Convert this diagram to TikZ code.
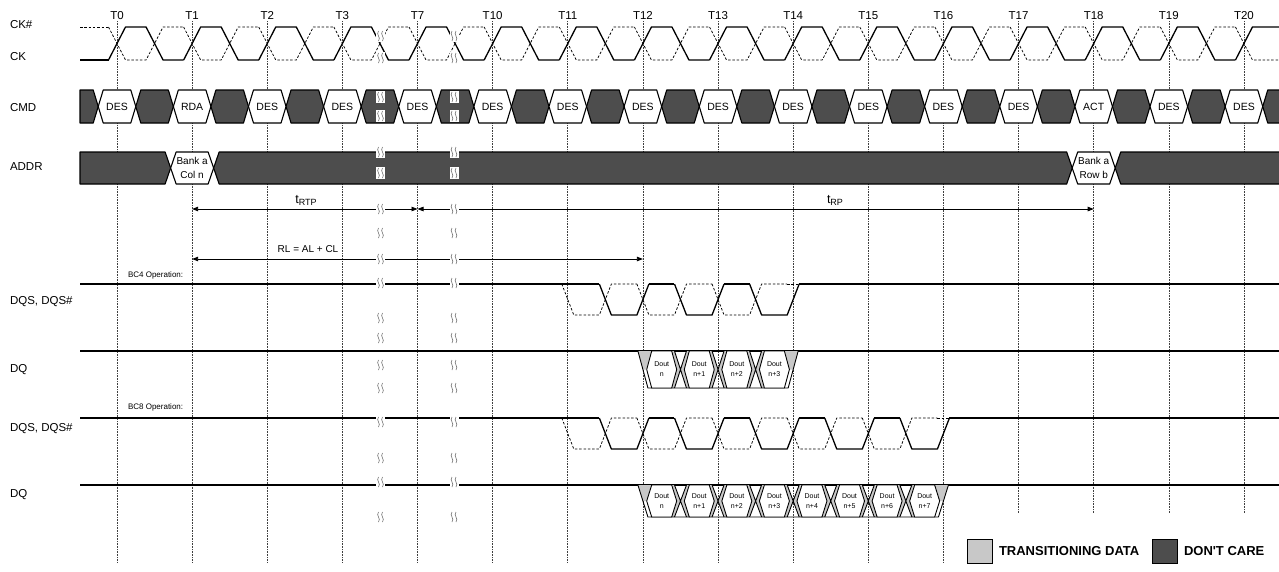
\documentclass[tikz,border=0pt]{standalone}
\usepackage{fontspec}
\setmainfont{Liberation Sans}
\newfontfamily\legendfont[Ligatures=ResetAll]{Liberation Sans}
\usetikzlibrary{arrows.meta}
\definecolor{dcare}{RGB}{77,77,77}
\definecolor{trans}{RGB}{200,200,200}
\definecolor{brkc}{RGB}{110,110,110}
\newcommand{\tcx}[1]{117+75.13*(#1)}
\newcommand{\myhex}[6]{\filldraw[#1] ({#2-(#3)},{(#5+#6)/2}) -- ({#2-(#3)+(#4)},#5) -- ({#2+(#3)-(#4)},#5) -- ({#2+(#3)},{(#5+#6)/2}) -- ({#2+(#3)-(#4)},#6) -- ({#2-(#3)+(#4)},#6) -- cycle;}
% DQS pair: #1 top, #2 bottom, #3 number of falling DQS edges
\newcommand{\dqspair}[3]{%
  \pgfmathtruncatemacro{\nlast}{#3-1}%
  \draw[wave] (80,#1) -- ({\tcx{6.5}-6},#1);
  \foreach \k in {0,...,\nlast} {
    \draw[wave] ({\tcx{6.5+\k}-6},#1) -- ({\tcx{6.5+\k}+6},#2) -- ({\tcx{7+\k}-6},#2) -- ({\tcx{7+\k}+6},#1);
    \draw[dwave] ({\tcx{6+\k}-6},#1) -- ({\tcx{6+\k}+6},#2) -- ({\tcx{6.5+\k}-6},#2) -- ({\tcx{6.5+\k}+6},#1) -- ({\tcx{7+\k}-6},#1);
  }
  \foreach \k in {1,...,\nlast} {
    \draw[wave] ({\tcx{6+\k}+6},#1) -- ({\tcx{6.5+\k}-6},#1);
  }
  \draw[dwave] ({\tcx{6+#3}-6},#1) -- ({\tcx{6+#3}+6},#1);
  \draw[wave] ({\tcx{6+#3}+6},#1) -- (1279,#1);
}
\newcommand{\dqburst}[3]{%
  \pgfmathsetmacro{\dqmid}{(#1+#2)/2}%
  \pgfmathsetmacro{\dqend}{7+0.5*#3}%
  \pgfmathtruncatemacro{\ntr}{#3-1}%
  \fill[trans] ({\tcx{7}-5},#1) -- ({\tcx{7}+8.78},#1) -- ({\tcx{7}+3.78},\dqmid) -- ({\tcx{7}},\dqmid) -- cycle;
  \fill[trans] ({\tcx{\dqend}-8.78},#1) -- ({\tcx{\dqend}+5},#1) -- ({\tcx{\dqend}},\dqmid) -- ({\tcx{\dqend}-3.78},\dqmid) -- cycle;
  \foreach \j in {1,...,\ntr} {
    \fill[trans] ({\tcx{7+0.5*\j}-8.78},#1) -- ({\tcx{7+0.5*\j}-6},#1) -- ({\tcx{7+0.5*\j}},\dqmid) -- ({\tcx{7+0.5*\j}-6},#2) -- ({\tcx{7+0.5*\j}-8.78},#2) -- ({\tcx{7+0.5*\j}-3.78},\dqmid) -- cycle;
    \fill[trans] ({\tcx{7+0.5*\j}+8.78},#1) -- ({\tcx{7+0.5*\j}+6},#1) -- ({\tcx{7+0.5*\j}},\dqmid) -- ({\tcx{7+0.5*\j}+6},#2) -- ({\tcx{7+0.5*\j}+8.78},#2) -- ({\tcx{7+0.5*\j}+3.78},\dqmid) -- cycle;
    \draw[dqw] ({\tcx{7+0.5*\j}-6},#1) -- ({\tcx{7+0.5*\j}+6},#2) ({\tcx{7+0.5*\j}-6},#2) -- ({\tcx{7+0.5*\j}+6},#1);
  }
  \draw[dqw] ({\tcx{7}-5},#1) -- ({\tcx{7}+5},#2) -- ({\tcx{\dqend}-5},#2) -- ({\tcx{\dqend}+5},#1);
  \foreach \k in {0,...,\ntr} { \myhex{dhex}{\tcx{7.25+0.5*\k}}{15}{5}{#1}{#2} }
}
\begin{document}
\begin{tikzpicture}[x=1pt,y=-1pt,
  every node/.style={inner sep=0pt, outer sep=0pt},
  lab/.style={anchor=base west, font=\fontsize{11.5}{13}\selectfont},
  tlab/.style={anchor=base, font=\fontsize{11.5}{13}\selectfont},
  wave/.style={draw=black, line width=1.3pt, line join=round, solid},
  dwave/.style={draw=black, line width=0.75pt, line join=round, dash pattern=on 2.5pt off 1.8pt},
  dqw/.style={line width=0.9pt, line join=round},
  hexw/.style={fill=white, draw=black, line width=1.1pt, line join=round},
  hexd/.style={fill=dcare, draw=black, line width=1.1pt, line join=round},
  dhex/.style={fill=white, draw=black, line width=0.9pt, line join=round},
  tline/.style={line width=0.6pt, dash pattern=on 0.8pt off 0.8pt, black!75},
  cmdtxt/.style={font=\fontsize{10.5}{12}\selectfont},
  addrtxt/.style={font=\fontsize{10}{14}\selectfont, align=center},
  dtxt/.style={font=\fontsize{7}{10.5}\selectfont, align=center},
  optxt/.style={anchor=west, font=\fontsize{8}{9}\selectfont},
  dimline/.style={line width=.8pt, {Triangle[length=6pt,width=4.5pt]}-{Triangle[length=6pt,width=4.5pt]}},
  brk/.pic={\fill[white] (-4.5,-6) rectangle (4.5,6);
    \draw[brkc, line width=.6pt] (-2,-5) .. controls (-5,-1.5) and (1,1.5) .. (-2,5);
    \draw[brkc, line width=.6pt] (2,-5) .. controls (-1,-1.5) and (5,1.5) .. (2,5);}
]
\useasboundingbox (0,0) rectangle (1279,571);
\fill[white] (0,0) rectangle (1279,571);

% time grid
\foreach \i/\n in {0/0,1/1,2/2,3/3,4/7,5/10,6/11,7/12,8/13,9/14,10/15,11/16,12/17,13/18,14/19,15/20} {
  \node[tlab] (tl\i) at ({\tcx{\i}},19.5) {T\n};
}
\foreach \i in {0,...,11} { \draw[tline] ({\tcx{\i}},21) -- ({\tcx{\i}},562); }
\foreach \i in {12,...,15} { \draw[tline] ({\tcx{\i}},21) -- ({\tcx{\i}},513); }

\begin{scope}
\clip (0,0) rectangle (1279,571);
% clocks
\draw[wave] (80,60) -- ({\tcx{0}-8.5},60);
\draw[dwave] (80,27) -- ({\tcx{0}-8.5},27);
\foreach \i in {0,...,14} {
  \draw[wave] ({\tcx{\i}-8.5},60) -- ({\tcx{\i}+8.5},27) -- ({\tcx{\i+.5}-8.5},27) -- ({\tcx{\i+.5}+8.5},60) -- ({\tcx{\i+1}-8.5},60);
  \draw[dwave] ({\tcx{\i}-8.5},27) -- ({\tcx{\i}+8.5},60) -- ({\tcx{\i+.5}-8.5},60) -- ({\tcx{\i+.5}+8.5},27) -- ({\tcx{\i+1}-8.5},27);
}
\draw[wave] ({\tcx{15}-8.5},60) -- ({\tcx{15}+8.5},27) -- (1279,27);
\draw[dwave] ({\tcx{15}-8.5},27) -- ({\tcx{15}+8.5},60) -- (1279,60);

% CMD
\filldraw[hexd] (80,90) -- ({\tcx{0}-23.78},90) -- ({\tcx{0}-18.78},106.5) -- ({\tcx{0}-23.78},123) -- (80,123) -- cycle;
\foreach \i/\cmdl in {0/DES,1/RDA,2/DES,3/DES,4/DES,5/DES,6/DES,7/DES,8/DES,9/DES,10/DES,11/DES,12/DES,13/ACT,14/DES,15/DES} {
  \myhex{hexw}{\tcx{\i}}{18.78}{5}{90}{123}
  \myhex{hexd}{\tcx{\i+.5}}{18.78}{5}{90}{123}
  \node[cmdtxt] (cmd\i) at ({\tcx{\i}},106.5) {\cmdl};
}

% ADDR
\filldraw[hexd] (80,152) -- ({\tcx{1}-27},152) -- ({\tcx{1}-21.5},168) -- ({\tcx{1}-27},184) -- (80,184) -- cycle;
\myhex{hexw}{\tcx{1}}{21.5}{5.5}{152}{184}
\filldraw[hexd] ({\tcx{1}+21.5},168) -- ({\tcx{1}+27},152) -- ({\tcx{13}-27},152) -- ({\tcx{13}-21.5},168) -- ({\tcx{13}-27},184) -- ({\tcx{1}+27},184) -- cycle;
\myhex{hexw}{\tcx{13}}{21.5}{5.5}{152}{184}
\filldraw[hexd] ({\tcx{13}+21.5},168) -- ({\tcx{13}+27},152) -- (1290,152) -- (1290,184) -- ({\tcx{13}+27},184) -- cycle;
\node[addrtxt] (addr1) at ({\tcx{1}},168) {Bank a\\Col n};
\node[addrtxt] (addr18) at ({\tcx{13}},168) {Bank a\\Row b};

% BC4 DQS
\dqspair{284}{315}{3}
% BC4 DQ
\draw[wave] (80,351) -- (1279,351);
\dqburst{351}{388}{4}
\foreach \k/\s in {0/n,1/n+1,2/n+2,3/n+3} { \node[dtxt] (da\k) at ({\tcx{7.25+0.5*\k}},369) {Dout\\\s}; }

% BC8 DQS
\dqspair{418}{449}{5}
% BC8 DQ
\draw[wave] (80,485) -- (1279,485);
\dqburst{485}{517}{8}
\foreach \k/\s in {0/n,1/n+1,2/n+2,3/n+3,4/n+4,5/n+5,6/n+6,7/n+7} { \node[dtxt] (db\k) at ({\tcx{7.25+0.5*\k}},501) {Dout\\\s}; }
\end{scope}

% timing arrows
\coordinate (r1) at ({\tcx{1}},209);
\coordinate (r7) at ({\tcx{4}},209);
\coordinate (r18) at ({\tcx{13}},209);
\coordinate (l1) at ({\tcx{1}},259);
\coordinate (l12) at ({\tcx{7}},259);
\draw[dimline] (r1) -- (r7);
\draw[dimline] (r7) -- (r18);
\draw[dimline] (l1) -- (l12);
\node[anchor=base, font=\fontsize{12.5}{13}\selectfont] (trtp) at (306,203) {t\raisebox{-2.5pt}{\fontsize{9}{9}\selectfont RTP}};
\node[anchor=base, font=\fontsize{12.5}{13}\selectfont] (trp) at (835,203) {t\raisebox{-2.5pt}{\fontsize{9}{9}\selectfont RP}};
\node[font=\fontsize{10}{12}\selectfont] (rl) at (308,249) {RL = AL + CL};

% break marks
\foreach \y in {36,58,97,116,152,173,209,233,259,283,318,338,365,388,422,458,482,517} {
  \pic at (380.5,\y) {brk};
  \pic at (454,\y) {brk};
}

% row labels
\node[lab] (lck1) at (10,28) {CK\#};
\node[lab] (lck) at (10,60) {CK};
\node[lab] (lcmd) at (10,111) {CMD};
\node[lab] (laddr) at (10,170) {ADDR};
\node[lab] (ldqs4) at (10,304) {DQS, DQS\#};
\node[lab] (ldq4) at (10,372) {DQ};
\node[lab] (ldqs8) at (10,431) {DQS, DQS\#};
\node[lab] (ldq8) at (10,497) {DQ};
\node[optxt] (op4) at (128,275) {BC4 Operation:};
\node[optxt] (op8) at (128,407) {BC8 Operation:};

% legend
\filldraw[fill=trans, draw=black, line width=1pt] (967,539) rectangle (992,563);
\node[anchor=west, font=\fontsize{13}{15}\bfseries\selectfont] (lgt) at (999,551) {TRANSITIONING DATA};
\filldraw[fill=dcare, draw=black, line width=1pt] (1152,539) rectangle (1177,563);
\node[anchor=west, font=\legendfont\fontsize{13}{15}\bfseries\selectfont] (lgd) at (1184,551) {DON'T CARE};
\end{tikzpicture}
\end{document}
